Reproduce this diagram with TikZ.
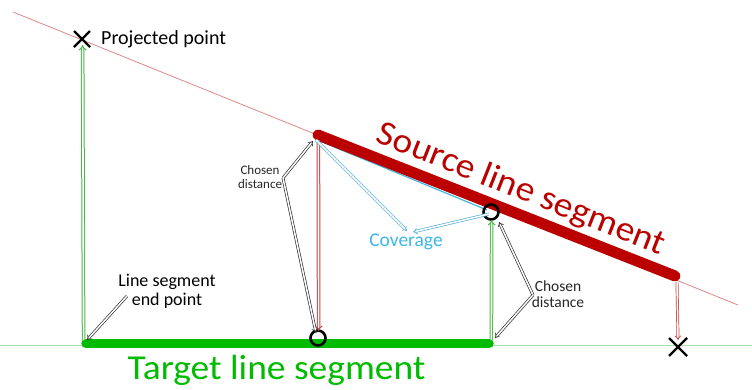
\documentclass[tikz,border=0pt]{standalone}
\usepackage{fontspec}
\setmainfont{Carlito}
\usetikzlibrary{arrows.meta}
\definecolor{srcred}{HTML}{BB0000}
\definecolor{thinred}{HTML}{E08888}
\definecolor{arrred}{HTML}{C84040}
\definecolor{tgtgreen}{HTML}{00BB00}
\definecolor{thingreen}{HTML}{A8DCA8}
\definecolor{arrgreen}{HTML}{44B844}
\definecolor{cov}{HTML}{3DB7E6}
\definecolor{arrcov}{HTML}{5AB0D4}
\definecolor{arrgray}{HTML}{333333}
\begin{document}
\begin{tikzpicture}[x=1pt,y=-1pt,
  dblarrow/.style={line width=0.7pt, double=white, double distance=1.5pt, -{Implies}},
  vdblarrow/.style={line width=1pt, double=white, double distance=1.6pt, -{Implies}},
  cross/.style={line width=2.4pt, black},
  ring/.style={circle, draw=black, line width=2.6pt, minimum size=15pt, inner sep=0pt},
  lbl/.style={align=center, text=black!85, inner sep=0pt},
  big/.style={font=\fontsize{35}{38}\selectfont, inner sep=0pt}]
\useasboundingbox (0,0) rectangle (752,389);

% thin guide lines
\coordinate (rl1) at (13,12);
\coordinate (rl2) at (738,305);
\coordinate (gl1) at (0,345);
\coordinate (gl2) at (752,345);
\draw[thinred, line width=0.8pt] (rl1) -- (rl2);
\draw[thingreen, line width=1pt] (gl1) -- (gl2);

% segments
\coordinate (s1) at (318,135);
\coordinate (s2) at (675,276);
\coordinate (t1) at (86,343.5);
\coordinate (t2) at (489,343.5);
\coordinate (cv1) at (316,139.5);
\coordinate (cv2) at (487,210);
\draw[cov, line width=1.2pt] (cv1) -- (cv2);
\draw[srcred, line width=11pt, line cap=round] (s1) -- (s2);
\draw[tgtgreen, line width=9.5pt, line cap=round] (t1) -- (t2);

% rings and crosses
\node[ring] (c1) at (318,338) {};
\node[ring] (c2) at (491,212) {};
\coordinate (x1) at (82,39);
\coordinate (x2) at (678,347);
\draw[cross] ([shift={(-8,-8)}]x1) -- ([shift={(8,8)}]x1) ([shift={(-8,8)}]x1) -- ([shift={(8,-8)}]x1);
\draw[cross] ([shift={(-9,-9)}]x2) -- ([shift={(9,9)}]x2) ([shift={(-9,9)}]x2) -- ([shift={(9,-9)}]x2);

% texts
\node[font=\fontsize{20}{22}\selectfont, anchor=west, inner sep=0pt] (pp) at (101,39) {Projected point};
\node[big, text=tgtgreen, anchor=base, xscale=1.07] (tt) at (276.5,379) {Target line segment};
\node[big, text=srcred, rotate=-21.6, xscale=1.07] (st) at (521,190) {Source line segment};
\node[font=\fontsize{19.5}{21}\selectfont, text=cov, inner sep=0pt] (cvt) at (406,242) {Coverage};
\node[lbl, font=\fontsize{13}{14}\selectfont] (cd1) at (260,177) {Chosen\\distance};
\node[lbl, font=\fontsize{15.5}{16.5}\selectfont] (cd2) at (558,294) {Chosen\\distance};
\node[font=\fontsize{18}{19}\selectfont, align=center, inner sep=0pt] (ep) at (167,291) {Line segment\\end point};

% arrow anchors
\coordinate (ga1) at (83.6,340);
\coordinate (ga2) at (82.6,45);
\coordinate (ra1) at (318.4,140);
\coordinate (ra2) at (318.6,331);
\coordinate (gb1) at (491.4,340);
\coordinate (gb2) at (491.6,220);
\coordinate (rb1) at (677,282);
\coordinate (rb2) at (678,340);
\coordinate (j1) at (283,178);
\coordinate (j1a) at (313,141);
\coordinate (j1b) at (316,333);
\coordinate (j2) at (533,295);
\coordinate (j2a) at (499,222);
\coordinate (j2b) at (495,338);
\coordinate (e1) at (127,296);
\coordinate (e2) at (87,340);
\coordinate (k1) at (316,140);
\coordinate (k1t) at (407,231);
\coordinate (k2) at (489,214);
\coordinate (k2t) at (413,232);

\draw[vdblarrow, draw=arrgreen] (ga1) -- (ga2);
\draw[vdblarrow, draw=arrgreen] (gb1) -- (gb2);
\draw[vdblarrow, draw=arrred] (ra1) -- (ra2);
\draw[dblarrow, draw=arrred] (rb1) -- (rb2);
\draw[dblarrow, draw=arrgray] (j1) -- (j1a);
\draw[dblarrow, draw=arrgray] (j1) -- (j1b);
\draw[dblarrow, draw=arrgray] (j2) -- (j2a);
\draw[dblarrow, draw=arrgray] (j2) -- (j2b);
\draw[dblarrow, draw=arrgray] (e1) -- (e2);
\draw[dblarrow, draw=arrcov] (k1) -- (k1t);
\draw[dblarrow, draw=arrcov] (k2) -- (k2t);
\end{tikzpicture}
\end{document}
